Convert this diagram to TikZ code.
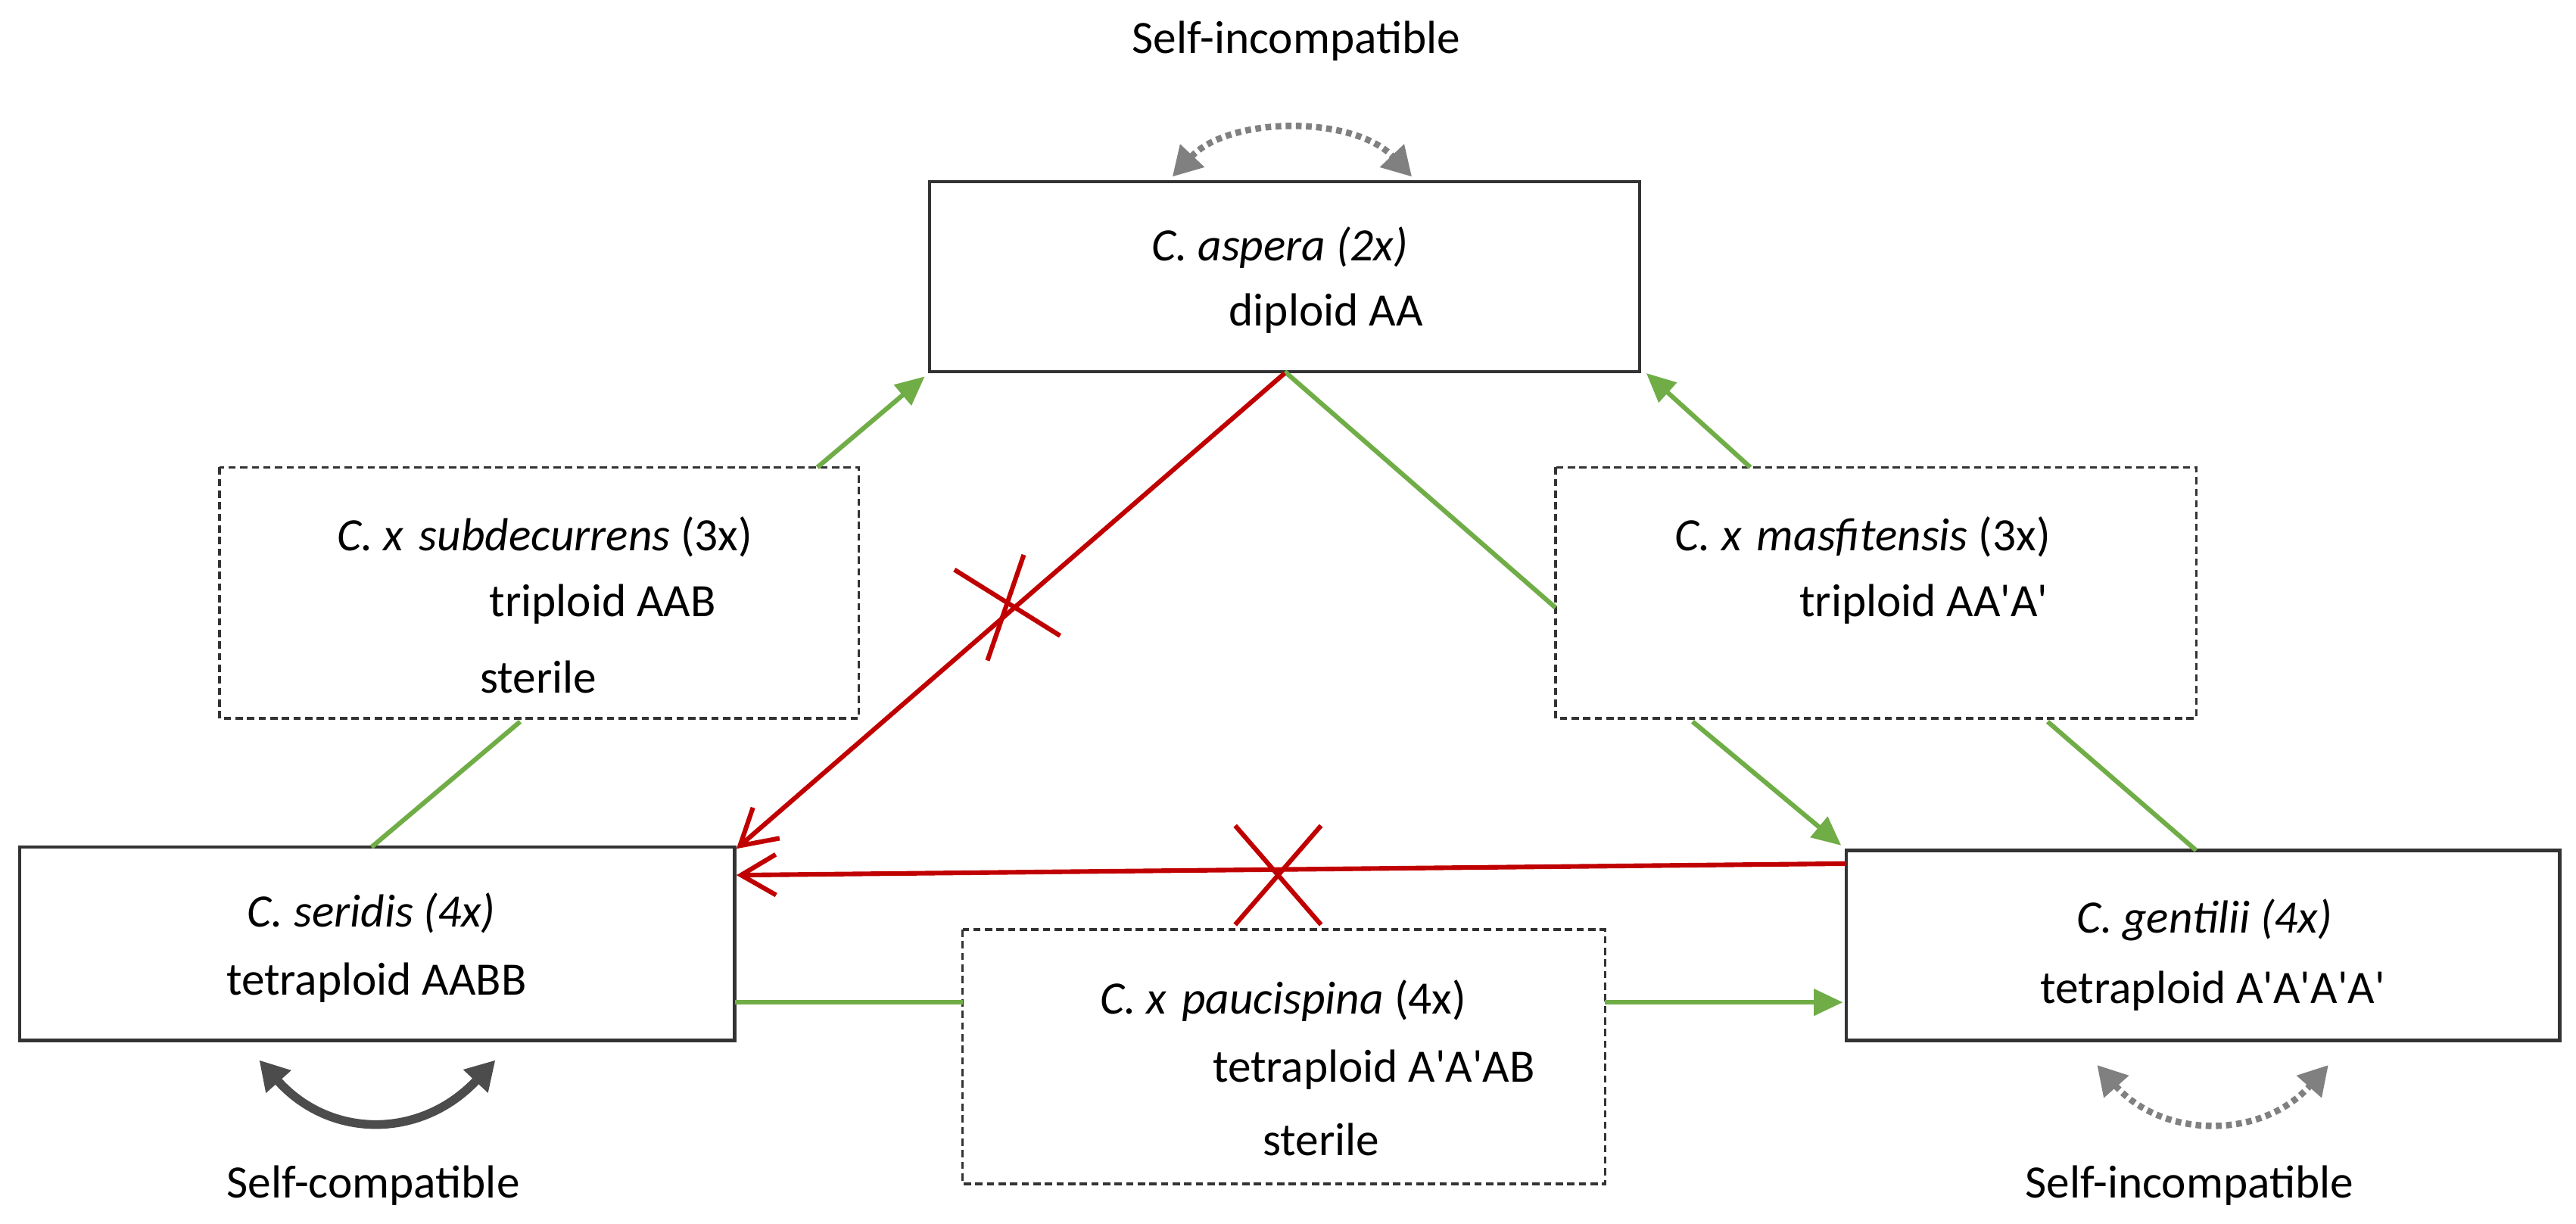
\documentclass[tikz,border=0pt]{standalone}
\usepackage{fontspec}
\setmainfont{Carlito}
\usetikzlibrary{arrows.meta}
\newcommand\pq{\textquotesingle}
\begin{document}
\begin{tikzpicture}[x=0.02cm,y=-0.02cm,
  box/.style={draw=black!80,line width=1.2pt,inner sep=0},
  dbox/.style={draw=black!80,line width=0.9pt,dash pattern=on 2.5pt off 1.5pt,inner sep=0},
  txt/.style={font=\fontsize{16}{19}\selectfont,inner sep=0},
  grn/.style={draw={rgb,255:red,112;green,173;blue,71},line width=1.6pt},
  garr/.style={grn,-{Triangle[length=10pt,width=9pt]}},
  red/.style={draw={rgb,255:red,192;green,0;blue,0},line width=1.6pt},
  rarr/.style={red,-{Straight Barb[length=12pt,width=14pt]}},
]
\useasboundingbox (0,0) rectangle (1560,741);
% boxes
\draw[box] (563,110) rectangle (993,225) coordinate (asp);
\draw[dbox] (133,283) rectangle (520,435);
\draw[dbox] (942,283) rectangle (1330,435);
\draw[box] (12,513) rectangle (445,630);
\draw[dbox] (583,563) rectangle (972,717);
\draw[box] (1118,515) rectangle (1550,630);
% texts
\node[txt] (t1) at (775,150) {\textit{C. aspera (2x)}};
\node[txt] (t2) at (803,190) {diploid AA};
\node[txt] (t3) at (330,325) {\textit{C. x\,\,subdecurrens} (3x)};
\node[txt] (t4) at (365,366) {triploid AAB};
\node[txt] (t5) at (326,410) {sterile};
\node[txt] (t6) at (1128,325) {\textit{C. x\,\,masfitensis} (3x)};
\node[txt] (t7) at (1165,366) {triploid AA\pq A\pq};
\node[txt] (t8) at (225,553) {\textit{C. seridis (4x)}};
\node[txt] (t9) at (228,595) {tetraploid AABB};
\node[txt] (t10) at (777,606) {\textit{C. x\,\,paucispina} (4x)};
\node[txt] (t11) at (832,648) {tetraploid A\pq A\pq AB};
\node[txt] (t12) at (800,690) {sterile};
\node[txt] (t13) at (1335,557) {\textit{C. gentilii (4x)}};
\node[txt] (t14) at (1340,600) {tetraploid A\pq A\pq A\pq A\pq};
\node[txt] (s1) at (785,25) {Self-incompatible};
\node[txt] (s2) at (226,718) {Self-compatible};
\node[txt] (s3) at (1326,718) {Self-incompatible};
% self arcs
\draw[gray,line width=2.2pt,dash pattern=on 2pt off 1.5pt,{Triangle[length=10pt,width=11pt]}-{Triangle[length=10pt,width=11pt]}]
  (710,107) .. controls (745,70) and (820,70) .. (855,107);
\draw[black!70,line width=3pt,{Triangle[length=10pt,width=11pt]}-{Triangle[length=10pt,width=11pt]}]
  (157,642) .. controls (200,690) and (255,690) .. (300,642);
\draw[gray,line width=2.2pt,dash pattern=on 2pt off 1.5pt,{Triangle[length=10pt,width=11pt]}-{Triangle[length=10pt,width=11pt]}]
  (1270,645) .. controls (1310,690) and (1370,690) .. (1410,645);
% green connectors
\coordinate (a1) at (495,283); \coordinate (a2) at (560,228);
\draw[garr] (a1) -- (a2);
\coordinate (b1) at (225,513); \coordinate (b2) at (315,437);
\draw[grn] (b1) -- (b2);
\coordinate (c1) at (778,225); \coordinate (c2) at (942,368);
\draw[grn] (c1) -- (c2);
\coordinate (d1) at (1060,283); \coordinate (d2) at (997,226);
\draw[garr] (d1) -- (d2);
\coordinate (e1) at (1025,437); \coordinate (e2) at (1115,512);
\draw[garr] (e1) -- (e2);
\coordinate (f1) at (1330,515); \coordinate (f2) at (1240,437);
\draw[grn] (f1) -- (f2);
\coordinate (g1) at (445,607); \coordinate (g2) at (583,607);
\draw[grn] (g1) -- (g2);
\coordinate (h1) at (972,607); \coordinate (h2) at (1116,607);
\draw[garr] (h1) -- (h2);
% red connectors
\coordinate (r1) at (778,226); \coordinate (r2) at (446,514);
\draw[rarr] (r1) -- (r2);
\coordinate (q1) at (1118,523); \coordinate (q2) at (446,530);
\draw[rarr] (q1) -- (q2);
% crosses
\draw[red] (578,345) -- (642,385);
\draw[red] (598,400) -- (620,336);
\draw[red] (748,500) -- (800,560);
\draw[red] (748,560) -- (800,500);
\end{tikzpicture}
\end{document}
